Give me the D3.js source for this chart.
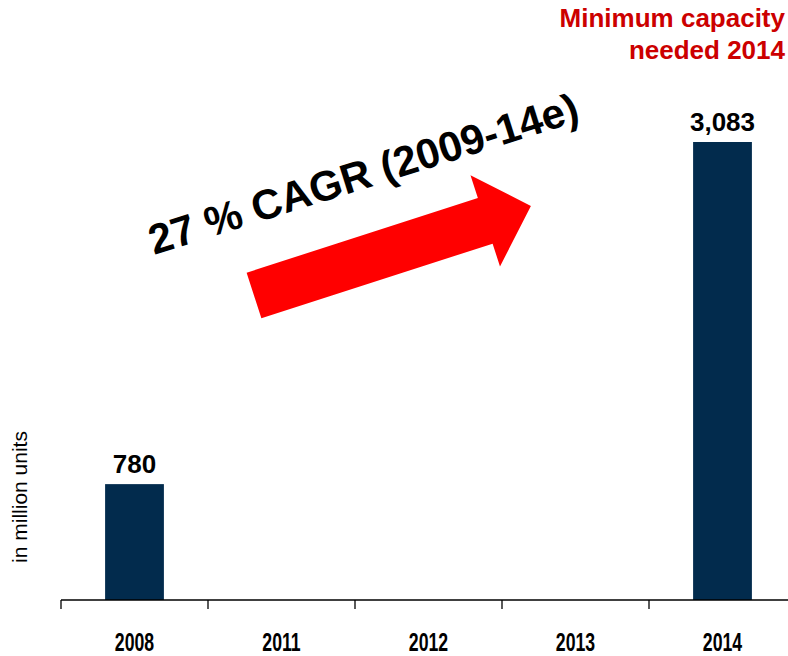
<!DOCTYPE html>
<html>
<head>
<meta charset="utf-8">
<script src="https://cdn.jsdelivr.net/npm/d3@7"></script>
<style>
  body { margin: 0; background: #fff; }
  svg { display: block; }
</style>
</head>
<body>
<script>
// Data
var years = ["2008", "2011", "2012", "2013", "2014"];
var values = [780, null, null, null, 3083];
var valueLabels = ["780", "", "", "", "3,083"];

var width = 788, height = 656;
var margin = {left: 61, right: 0, top: 142, bottom: 56};

var svg = d3.select("body")
    .append("svg")
    .attr("width", width)
    .attr("height", height);

// Scales
var x = d3.scaleBand()
    .domain(years)
    .range([margin.left, 796])
    .padding(0);

var baseY = height - margin.bottom;
var y = d3.scaleLinear()
    .domain([0, d3.max(values)])
    .range([baseY, margin.top]);

var barW = x.bandwidth() * 0.4;
var barData = years.map((d, i) => ({year: d, value: values[i], label: valueLabels[i]}))
    .filter(d => d.value != null);

// Bars
svg.append("g")
    .selectAll("rect")
    .data(barData)
    .enter().append("rect")
    .attr("x", d => x(d.year) + x.bandwidth() / 2 - barW / 2)
    .attr("width", barW)
    .attr("y", d => y(d.value))
    .attr("height", d => baseY - y(d.value))
    .attr("fill", "#022b4d");

// Value labels
svg.append("g")
    .selectAll("text")
    .data(barData)
    .enter().append("text")
    .attr("x", d => x(d.year) + x.bandwidth() / 2)
    .attr("y", d => y(d.value) - 11)
    .attr("text-anchor", "middle")
    .attr("font-family", "Liberation Sans, Arial, sans-serif")
    .attr("font-weight", "bold")
    .attr("font-size", 26)
    .attr("fill", "#000")
    .text(d => d.label);

// Axis: line with ticks at band edges, labels at band centres
var axis = svg.append("g").attr("transform", `translate(0, ${baseY})`);
var edges = years.map(d => x(d)).concat([x.range()[1]]);

axis.append("line")
    .attr("x1", x.range()[0])
    .attr("x2", x.range()[1])
    .attr("stroke", "#000")
    .attr("stroke-width", 1.3);

axis.selectAll("line.tick")
    .data(edges)
    .enter().append("line")
    .attr("class", "tick")
    .attr("x1", d => d)
    .attr("x2", d => d)
    .attr("y1", 0)
    .attr("y2", 9)
    .attr("stroke", "#000")
    .attr("stroke-width", 1.3);

// narrow bold year labels (squeezed horizontally)
axis.selectAll("text")
    .data(years)
    .enter().append("text")
    .attr("transform", d => `translate(${x(d) + x.bandwidth() / 2}, 51) scale(0.68, 1)`)
    .attr("text-anchor", "middle")
    .attr("font-family", "Liberation Sans, Arial, sans-serif")
    .attr("font-weight", "bold")
    .attr("font-size", 26)
    .attr("fill", "#000")
    .text(d => d);

// Y axis title
svg.append("text")
    .attr("transform", "translate(27, 497) rotate(-90)")
    .attr("text-anchor", "middle")
    .attr("font-family", "Liberation Sans, Arial, sans-serif")
    .attr("font-size", 21)
    .attr("fill", "#000")
    .text("in million units");

// Red note top right
var note = svg.append("text")
    .attr("text-anchor", "end")
    .attr("font-family", "Liberation Sans, Arial, sans-serif")
    .attr("font-weight", "bold")
    .attr("font-size", 26)
    .attr("fill", "#cc0000");
note.append("tspan").attr("x", 785).attr("y", 27).text("Minimum capacity");
note.append("tspan").attr("x", 785).attr("y", 59).text("needed 2014");

// CAGR arrow (drawn in its own frame, then rotated)
var arrowLen = 291, shaftHalf = 24, headHalf = 48, headLen = 48;
svg.append("path")
    .attr("transform", "translate(254, 295.5) rotate(-17.9)")
    .attr("d", d3.line()([
        [0, -shaftHalf],
        [arrowLen - headLen, -shaftHalf],
        [arrowLen - headLen, -headHalf],
        [arrowLen, 0],
        [arrowLen - headLen, headHalf],
        [arrowLen - headLen, shaftHalf],
        [0, shaftHalf]
    ]) + "Z")
    .attr("fill", "#ff0000");

svg.append("text")
    .attr("transform", "translate(154, 255) rotate(-17.5)")
    .attr("font-family", "Liberation Sans, Arial, sans-serif")
    .attr("font-weight", "bold")
    .attr("font-size", 42)
    .attr("fill", "#000")
    .text("27 % CAGR (2009-14e)");
</script>
</body>
</html>
